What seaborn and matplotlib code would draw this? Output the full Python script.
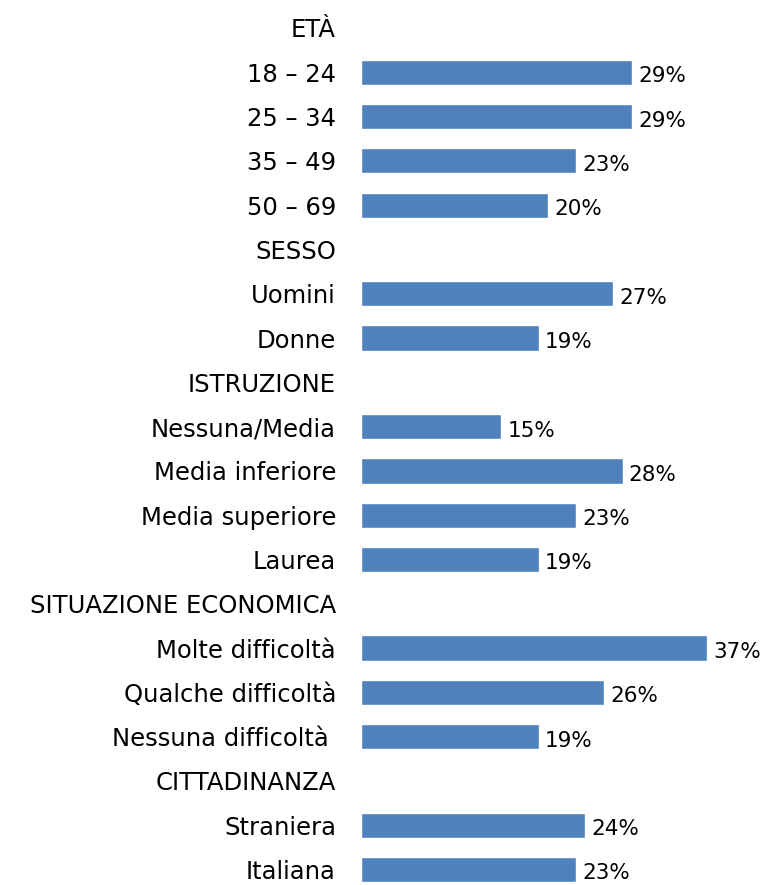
import matplotlib
matplotlib.use("Agg")
import matplotlib.pyplot as plt
import seaborn as sns
import pandas as pd
import numpy as np

labels = ["ETÀ", "18 – 24", "25 – 34", "35 – 49", "50 – 69",
          "SESSO", "Uomini", "Donne",
          "ISTRUZIONE", "Nessuna/Media", "Media inferiore", "Media superiore", "Laurea",
          "SITUAZIONE ECONOMICA", "Molte difficoltà", "Qualche difficoltà", "Nessuna difficoltà ",
          "CITTADINANZA", "Straniera", "Italiana"]
values = [np.nan, 29, 29, 23, 20,
          np.nan, 27, 19,
          np.nan, 15, 28, 23, 19,
          np.nan, 37, 26, 19,
          np.nan, 24, 23]

sns.set_theme(style="white")
plt.rcParams['font.family'] = ['DejaVu Sans']

df = pd.DataFrame({"label": labels, "value": values})

fig = plt.figure(figsize=(7.63, 8.85), dpi=100)
ax = fig.add_axes([361 / 763, 0, 402 / 763, 1])
sns.barplot(data=df, y="label", x="value", order=labels, color="#4F81BD",
            saturation=1, width=0.57, ax=ax, orient="h")
ax.set_xlim(0, 43)
ax.set_ylim(19.35, -0.632)
for i, v in enumerate(values):
    if not np.isnan(v):
        ax.annotate(f"{int(v)}%", xy=(v, i), xytext=(6, -4), textcoords="offset pixels",
                    ha="left", va="center", fontsize=15.5, color="#000000")
ax.set_xlabel("")
ax.set_ylabel("")
ax.set_xticks([])
ax.tick_params(axis="y", length=0, pad=18, labelsize=17.5, labelcolor="#000000")
for s in ax.spines.values():
    s.set_visible(False)
fig.savefig("out.png", dpi=100, facecolor="white")
